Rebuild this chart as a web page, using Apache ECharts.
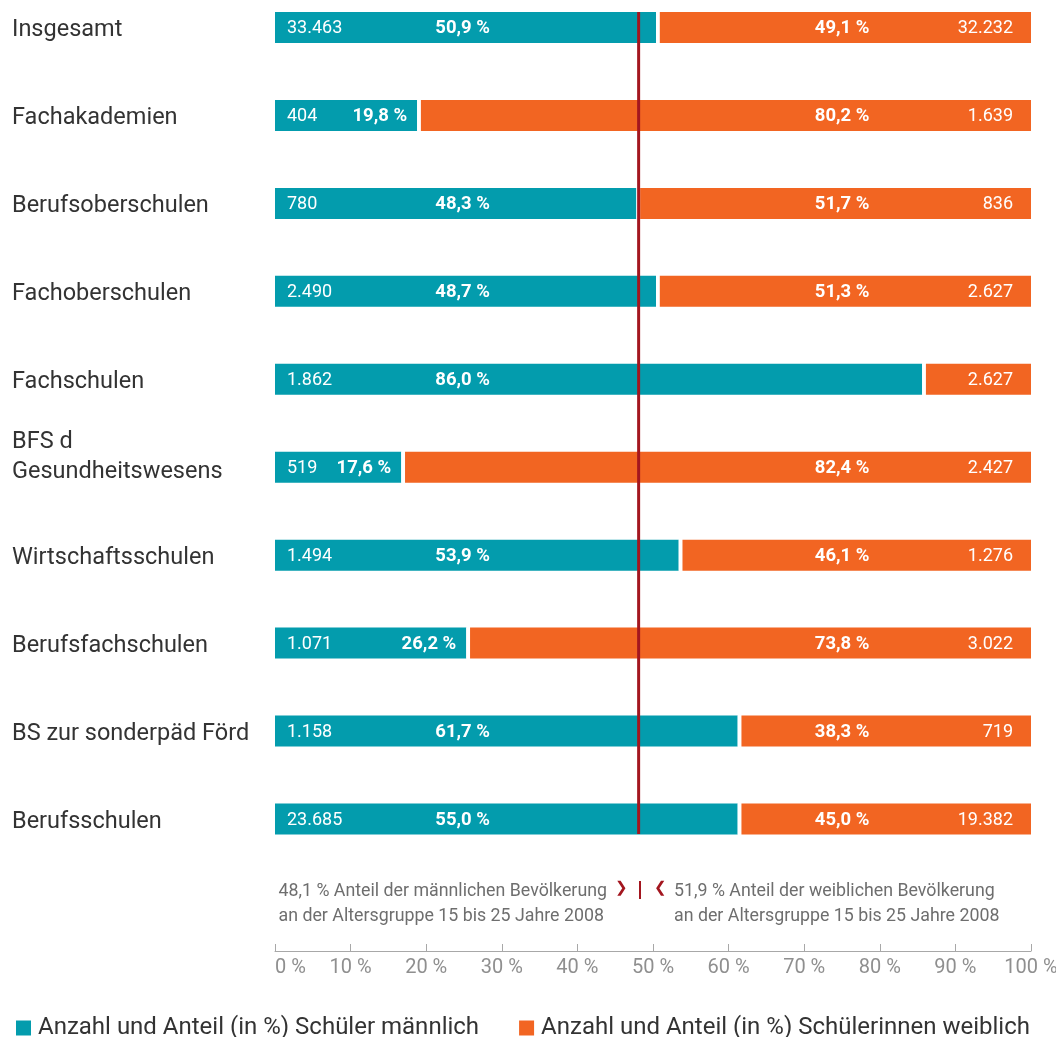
<!DOCTYPE html>
<html>
<head>
<meta charset="utf-8">
<script src="https://cdn.jsdelivr.net/npm/echarts@6/dist/echarts.min.js"></script>
<style>html,body{margin:0;padding:0;background:#fff}#chart{width:1056px;height:1037px}</style>
</head>
<body>
<div id="chart"></div>
<script>
const categories = ['Insgesamt', 'Fachakademien', 'Berufsoberschulen', 'Fachoberschulen', 'Fachschulen', 'BFS d\nGesundheitswesens', 'Wirtschaftsschulen', 'Berufsfachschulen', 'BS zur sonderpäd Förd', 'Berufsschulen'];
// bar lengths as drawn in the reference (share of male students, %)
const maleShare = [50.4, 18.8, 47.8, 50.4, 85.6, 16.7, 53.4, 25.3, 61.2, 61.2];
const maleCount = ['33.463', '404', '780', '2.490', '1.862', '519', '1.494', '1.071', '1.158', '23.685'];
const malePct = ['50,9 %', '19,8 %', '48,3 %', '48,7 %', '86,0 %', '17,6 %', '53,9 %', '26,2 %', '61,7 %', '55,0 %'];
const femalePct = ['49,1 %', '80,2 %', '51,7 %', '51,3 %', '', '82,4 %', '46,1 %', '73,8 %', '38,3 %', '45,0 %'];
const femaleCount = ['32.232', '1.639', '836', '2.627', '2.627', '2.427', '1.276', '3.022', '719', '19.382'];
const gapShare = 0.5;
const populationMale = 48.1;
const xTicks = [0, 10, 20, 30, 40, 50, 60, 70, 80, 90, 100];
const seriesNames = ['Anzahl und Anteil (in %) Schüler männlich', 'Anzahl und Anteil (in %) Schülerinnen weiblich'];
const noteLeft = ['48,1 % Anteil der männlichen Bevölkerung', 'an der Altersgruppe 15 bis 25 Jahre 2008'];
const noteRight = ['51,9 % Anteil der weiblichen Bevölkerung', 'an der Altersgruppe 15 bis 25 Jahre 2008'];

const TEAL = '#039cad', ORANGE = '#f26522', RED = '#a3161f';
const FONT = 'Roboto, "Liberation Sans", sans-serif';

const chart = echarts.init(document.getElementById('chart'), null, {renderer: 'canvas'});

const femaleShare = maleShare.map(v => +(100 - v - gapShare).toFixed(2));

const option = {
  animation: false,
  backgroundColor: '#fff',
  textStyle: {fontFamily: FONT},
  grid: [
    {left: 275, right: 25, top: 27.5, height: 791.5, containLabel: false, outerBoundsMode: 'none'},
    {left: 275, right: 25, top: 12, height: 822, containLabel: false, outerBoundsMode: 'none'}
  ],
  xAxis: [
    {gridIndex: 0, type: 'value', min: 0, max: 100, show: false},
    {gridIndex: 1, type: 'value', min: 0, max: 100, interval: 10, position: 'bottom', offset: 117,
      axisLine: {show: true, onZero: false, lineStyle: {color: '#a8a8a8', width: 1}},
      axisTick: {show: true, inside: true, length: 7, lineStyle: {color: '#a8a8a8'}},
      splitLine: {show: false},
      axisLabel: {color: '#8f8f8f', fontSize: 20, margin: 7, fontFamily: FONT, alignMinLabel: 'left',
        formatter: v => xTicks.includes(v) ? v + ' %' : ''}}
  ],
  yAxis: [
    {gridIndex: 0, type: 'category', data: categories, inverse: true, boundaryGap: false,
      axisLine: {show: false}, axisTick: {show: false}, splitLine: {show: false},
      axisLabel: {align: 'left', margin: 263, color: '#333', fontSize: 23.5, lineHeight: 30, fontFamily: FONT,
        padding: [6, 0, 0, 0],
        formatter: v => v.indexOf('\n') >= 0 ? v + '\n{s| }' : v,
        rich: {s: {lineHeight: 26, fontSize: 1}}}},
    {gridIndex: 1, type: 'value', min: 0, max: 1, show: false}
  ],
  legend: {
    data: seriesNames,
    left: 11, top: 1011,
    itemWidth: 15, itemHeight: 15, itemGap: 40, icon: 'rect',
    textStyle: {fontSize: 24, color: '#333', fontFamily: FONT, padding: [0, 0, 0, 2]}
  },
  series: [
    {name: seriesNames[0], type: 'bar', xAxisIndex: 0, yAxisIndex: 0, stack: 'a', barWidth: 31, clip: false,
      itemStyle: {color: TEAL}, data: maleShare},
    {name: 'gap', type: 'bar', xAxisIndex: 0, yAxisIndex: 0, stack: 'a', barWidth: 31, clip: false, silent: true,
      itemStyle: {color: '#ffffff'}, data: maleShare.map(() => gapShare)},
    {name: seriesNames[1], type: 'bar', xAxisIndex: 0, yAxisIndex: 0, stack: 'a', barWidth: 31, clip: false,
      itemStyle: {color: ORANGE}, data: femaleShare},
    {name: 'labels', type: 'custom', xAxisIndex: 0, yAxisIndex: 0, clip: false, z: 5, silent: true,
      data: maleShare.map((v, i) => [v, i]),
      renderItem: function (params, api) {
        const i = params.dataIndex;
        const p0 = api.coord([0, i]);
        const y = p0[1] + 1;
        const xEnd = api.coord([maleShare[i], i])[0];
        const xPct = api.coord([21.2, i])[0];
        const xFem = api.coord([71.4, i])[0];
        const x100 = api.coord([100, i])[0];
        const base = {fill: '#fff', fontFamily: FONT, fontSize: 18, verticalAlign: 'middle'};
        const bold = Object.assign({}, base, {fontWeight: 'bold', fontSize: 18.5});
        const kids = [
          {type: 'text', style: Object.assign({}, base, {text: maleCount[i], x: p0[0] + 12, y: y, align: 'left'})},
          {type: 'text', style: Object.assign({}, base, {text: femaleCount[i], x: x100 - 18, y: y, align: 'right'})}
        ];
        if (maleShare[i] > 30) {
          kids.push({type: 'text', style: Object.assign({}, bold, {text: malePct[i], x: xPct, y: y, align: 'left'})});
        } else {
          kids.push({type: 'text', style: Object.assign({}, bold, {text: malePct[i], x: xEnd - 10, y: y, align: 'right'})});
        }
        if (femalePct[i]) {
          kids.push({type: 'text', style: Object.assign({}, bold, {text: femalePct[i], x: xFem, y: y, align: 'left'})});
        }
        return {type: 'group', children: kids};
      }
    },
    {name: 'population', type: 'line', xAxisIndex: 1, yAxisIndex: 1, z: 10, silent: true,
      symbol: 'none', lineStyle: {color: RED, width: 3},
      data: [[populationMale, 0], [populationMale, 1]]}
  ],
  graphic: [
    {type: 'text', right: 1056 - 607, top: 879, z: 10, style: {text: noteLeft.join('\n'), fill: '#6e6e6e', font: '17.8px ' + FONT, lineHeight: 25, align: 'right'}},
    {type: 'text', left: 674, top: 879, z: 10, style: {text: noteRight.join('\n'), fill: '#6e6e6e', font: '17.8px ' + FONT, lineHeight: 25, align: 'left'}},
    {type: 'text', left: 615, top: 881, z: 10, style: {text: '❯', fill: RED, font: 'bold 15px "DejaVu Sans"'}},
    {type: 'text', left: 654, top: 881, z: 10, style: {text: '❮', fill: RED, font: 'bold 15px "DejaVu Sans"'}},
    {type: 'rect', left: 639, top: 881, z: 10, shape: {width: 2, height: 18}, style: {fill: RED}}
  ]
};
chart.setOption(option);
</script>
</body>
</html>
